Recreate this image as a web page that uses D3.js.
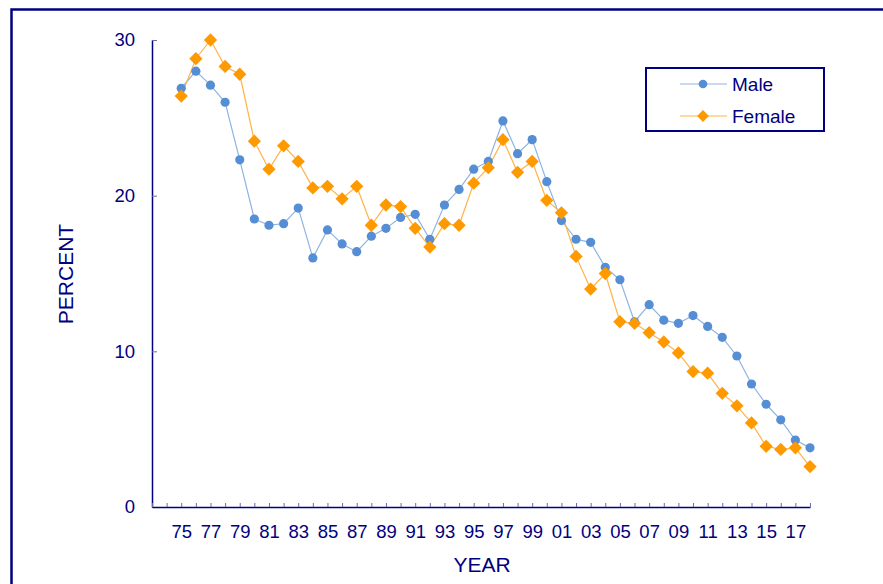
<!DOCTYPE html>
<html>
<head>
<meta charset="utf-8">
<script src="https://cdn.jsdelivr.net/npm/d3@7"></script>
<style>
  body { margin: 0; background: #fff; }
  text { font-family: "Liberation Sans", Arial, sans-serif; fill: #000080; }
</style>
</head>
<body>
<script>
// size of the picture
var w = 883;
var h = 584;

// data
const years = [1975, 1976, 1977, 1978, 1979, 1980, 1981, 1982, 1983, 1984,
               1985, 1986, 1987, 1988, 1989, 1990, 1991, 1992, 1993, 1994,
               1995, 1996, 1997, 1998, 1999, 2000, 2001, 2002, 2003, 2004,
               2005, 2006, 2007, 2008, 2009, 2010, 2011, 2012, 2013, 2014,
               2015, 2016, 2017, 2018];
const male = [26.9, 28.0, 27.1, 26.0, 22.3, 18.5, 18.1, 18.2, 19.2, 16.0,
              17.8, 16.9, 16.4, 17.4, 17.9, 18.6, 18.8, 17.2, 19.4, 20.4,
              21.7, 22.2, 24.8, 22.7, 23.6, 20.9, 18.4, 17.2, 17.0, 15.4,
              14.6, 11.9, 13.0, 12.0, 11.8, 12.3, 11.6, 10.9, 9.7, 7.9,
              6.6, 5.6, 4.3, 3.8];
const female = [26.4, 28.8, 30.0, 28.3, 27.8, 23.5, 21.7, 23.2, 22.2, 20.5,
                20.6, 19.8, 20.6, 18.1, 19.4, 19.3, 17.9, 16.7, 18.2, 18.1,
                20.8, 21.8, 23.6, 21.5, 22.2, 19.7, 18.9, 16.1, 14.0, 15.0,
                11.9, 11.8, 11.2, 10.6, 9.9, 8.7, 8.6, 7.3, 6.5, 5.4,
                3.9, 3.7, 3.8, 2.6];
const yTicks = [0, 10, 20, 30];
const xTickYears = [1973, 1974].concat(years);   // a tick mark for every year
const xLabels = ["75", "77", "79", "81", "83", "85", "87", "89", "91", "93", "95",
                 "97", "99", "01", "03", "05", "07", "09", "11", "13", "15", "17"];
const labelYears = [1975, 1977, 1979, 1981, 1983, 1985, 1987, 1989, 1991, 1993, 1995,
                    1997, 1999, 2001, 2003, 2005, 2007, 2009, 2011, 2013, 2015, 2017];

const navy = "#000080";

const svg = d3.select("body").append("svg")
    .attr("width", w)
    .attr("height", h);

// outer frame (runs off the right and bottom edges)
svg.append("rect")
    .attr("x", 11.5).attr("y", 9.5)
    .attr("width", 900).attr("height", 620)
    .attr("fill", "none")
    .attr("stroke", navy)
    .attr("stroke-width", 2.5);

// scales
const x = d3.scaleLinear().domain([1973, 2018]).range([152, 810]);
const y = d3.scaleLinear().domain([0, 30]).range([507, 40]);

// y axis
const yAxis = svg.append("g")
    .attr("transform", "translate(152,0)")
    .call(d3.axisLeft(y).tickValues(yTicks).tickSizeInner(-5).tickSizeOuter(0).tickPadding(17));
yAxis.selectAll("text").style("font-size", "18.5px").attr("fill", navy);

// x axis: tick on every year, labels on odd years
const xAxis = svg.append("g")
    .attr("transform", "translate(0,507)")
    .call(d3.axisBottom(x).tickValues(xTickYears).tickSizeInner(-4).tickSizeOuter(0)
          .tickFormat(d => { const i = labelYears.indexOf(d); return i >= 0 ? xLabels[i] : ""; })
          .tickPadding(18));
xAxis.selectAll("text").style("font-size", "18.5px").attr("fill", navy);

svg.selectAll(".domain").attr("stroke", navy).attr("stroke-width", 1.5);
svg.selectAll(".tick line").attr("stroke", "#6a6aa8").attr("stroke-width", 1);

// axis titles
svg.append("text")
    .attr("x", 482).attr("y", 572)
    .attr("text-anchor", "middle")
    .style("font-size", "21px")
    .text("YEAR");

svg.append("text")
    .attr("transform", "translate(73,274) rotate(-90)")
    .attr("text-anchor", "middle")
    .style("font-size", "21px")
    .text("PERCENT");

// lines
const line = d3.line().x((d, i) => x(years[i])).y(d => y(d));

svg.append("path")
    .datum(male)
    .attr("d", line)
    .attr("fill", "none")
    .attr("stroke", "#8db4e2")
    .attr("stroke-width", 1.2);

svg.append("path")
    .datum(female)
    .attr("d", line)
    .attr("fill", "none")
    .attr("stroke", "#ffb347")
    .attr("stroke-width", 1.2);

// markers
svg.append("g").selectAll("circle")
    .data(male)
    .enter()
    .append("circle")
    .attr("cx", (d, i) => x(years[i]))
    .attr("cy", d => y(d))
    .attr("r", 4.6)
    .attr("fill", "#558ed5");

const diamond = d3.symbol().type(d3.symbolSquare).size(88);
svg.append("g").selectAll("path")
    .data(female)
    .enter()
    .append("path")
    .attr("d", diamond)
    .attr("transform", (d, i) => `translate(${x(years[i])},${y(d)}) rotate(45)`)
    .attr("fill", "#ff9900");

// legend
const legend = svg.append("g");
legend.append("rect")
    .attr("x", 646).attr("y", 68)
    .attr("width", 178).attr("height", 63)
    .attr("fill", "#fff")
    .attr("stroke", navy)
    .attr("stroke-width", 2);

const legendItems = [
    { name: "Male", line: "#8db4e2", color: "#558ed5", y: 84 },
    { name: "Female", line: "#ffb347", color: "#ff9900", y: 116 }
];
legendItems.forEach((it, k) => {
    legend.append("line")
        .attr("x1", 680).attr("x2", 727)
        .attr("y1", it.y).attr("y2", it.y)
        .attr("stroke", it.line).attr("stroke-width", 1.2);
    if (k === 0) {
        legend.append("circle").attr("cx", 703).attr("cy", it.y).attr("r", 4.3).attr("fill", it.color);
    } else {
        legend.append("path").attr("d", d3.symbol().type(d3.symbolSquare).size(70))
            .attr("transform", `translate(703,${it.y}) rotate(45)`).attr("fill", it.color);
    }
    legend.append("text")
        .attr("x", 732).attr("y", it.y)
        .attr("dy", "0.36em")
        .style("font-size", "19px")
        .text(it.name);
});
</script>
</body>
</html>
